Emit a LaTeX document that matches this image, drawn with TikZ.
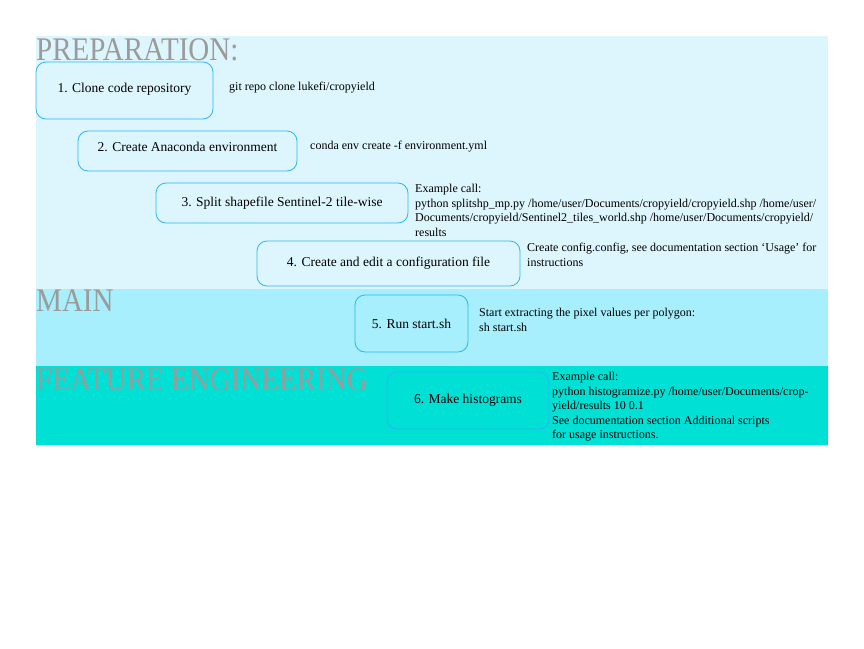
\documentclass[tikz,border=0pt]{standalone}
\usepackage{fontspec}
\setmainfont{Liberation Serif}
\newfontfamily\headfont[FakeStretch=0.88]{Liberation Serif}

\begin{document}
\begin{tikzpicture}[x=1pt, y=-1pt,
        stepbox/.style={draw=boxblue, rounded corners=10pt, line width=0.8pt, align=center, font=\fontsize{13.5}{16}\selectfont},
        note/.style={anchor=north west, inner sep=0pt, align=left, font=\fontsize{12}{14.5}\selectfont},
        heading/.style={anchor=base west, inner sep=0pt, text=headgray, font=\headfont\fontsize{33}{33}\selectfont}]
        \colorlet{prepband}{rgb,255:red,221;green,246;blue,253}
        \colorlet{mainband}{rgb,255:red,167;green,239;blue,252}
        \colorlet{featband}{rgb,255:red,0;green,224;blue,212}
        \definecolor{boxblue}{RGB}{41,182,246}
        \definecolor{headgray}{RGB}{155,155,155}

        \useasboundingbox (0,0) rectangle (864,648);

        % bands
        \fill[prepband] (36,36) rectangle (828,289);
        \fill[mainband] (36,289) rectangle (828,366);
        \fill[featband] (36,366) rectangle (828,445);

        \node[heading] (prep) at (36,60) {PREPARATION:};
        \node[heading] (main) at (36,311) {MAIN};
        \begin{scope}
            \clip (36,366) rectangle (828,445);
            \node[heading] (feat) at (36,390) {FEATURE ENGINEERING};
        \end{scope}

        % steps
        \node[stepbox, minimum width=177pt, minimum height=57pt, text depth=6pt] (clone) at (124.5,90.5) {1. Clone code repository};
        \node[stepbox, minimum width=219pt, minimum height=40pt, text depth=8pt] (conda) at (187.5,151) {2. Create Anaconda environment};
        \node[stepbox, minimum width=252pt, minimum height=40pt] (split) at (282,203) {3. Split shapefile Sentinel-2 tile-wise};
        \node[stepbox, minimum width=263pt, minimum height=45pt] (config) at (388.5,263.5) {4. Create and edit a configuration file};
        \node[stepbox, minimum width=113pt, minimum height=57pt] (run) at (411.5,323.5) {5. Run start.sh};
        \node[stepbox, minimum width=162pt, minimum height=57pt] (hist) at (468,400.5) {6. Make histograms};

        % commands
        \node[note] (cloneinfo) at (229,82) {git repo clone lukefi/cropyield};
        \node[note] (condainfo) at (310,141) {conda env create -f environment.yml};
        \node[note] (splitinfo) at (415,184) {Example call:\\python splitshp\_mp.py /home/user/Documents/cropyield/cropyield.shp /home/user/\\Documents/cropyield/Sentinel2\_tiles\_world.shp /home/user/Documents/cropyield/\\results};
        \node[note] (configinfo) at (527,243) {Create config.config, see documentation section `Usage' for\\instructions};
        \node[note] (runinfo) at (479,308) {Start extracting the pixel values per polygon:\\sh start.sh};
        \node[note] (histinfo) at (552,372) {Example call:\\python histogramize.py /home/user/Documents/crop-\\yield/results 10 0.1\\See documentation section Additional scripts\\for usage instructions.};
    \end{tikzpicture}
\end{document}
